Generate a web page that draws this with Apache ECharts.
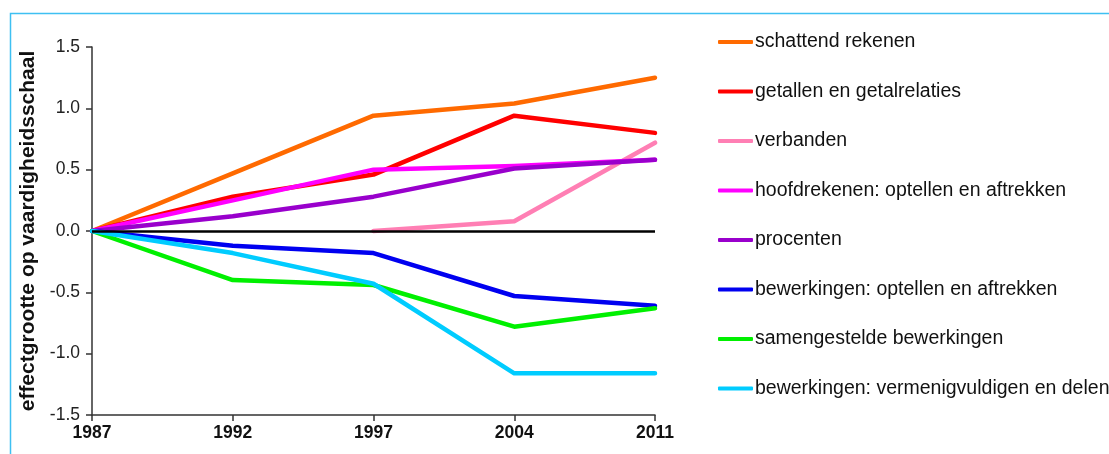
<!DOCTYPE html>
<html>
<head>
<meta charset="utf-8">
<script src="https://cdn.jsdelivr.net/npm/echarts@6/dist/echarts.min.js"></script>
<style>
html,body{margin:0;padding:0;background:#fff;}
#chart{width:1109px;height:454px;}
</style>
</head>
<body>
<div id="chart"></div>
<script>
const years = ['1987', '1992', '1997', '2004', '2011'];
const yTicks = [-1.5, -1.0, -0.5, 0.0, 0.5, 1.0, 1.5];
const yAxisTitle = 'effectgrootte op vaardigheidsschaal';

const seriesNames = [
  'schattend rekenen',
  'getallen en getalrelaties',
  'verbanden',
  'hoofdrekenen: optellen en aftrekken',
  'procenten',
  'bewerkingen: optellen en aftrekken',
  'samengestelde bewerkingen',
  'bewerkingen: vermenigvuldigen en delen'
];
const schattendRekenen = [0, 0.47, 0.94, 1.04, 1.25];
const getallen = [0, 0.28, 0.46, 0.94, 0.80];
const verbanden = [null, null, 0, 0.08, 0.72];
const hoofdrekenen = [0, 0.25, 0.50, 0.53, 0.58];
const procenten = [0, 0.12, 0.28, 0.51, 0.58];
const bewOptellen = [0, -0.12, -0.18, -0.53, -0.61];
const samengesteld = [0, -0.40, -0.44, -0.78, -0.63];
const bewVermenigvuldigen = [0, -0.18, -0.43, -1.16, -1.16];

const seriesData = [schattendRekenen, getallen, verbanden, hoofdrekenen, procenten, bewOptellen, samengesteld, bewVermenigvuldigen];
const colors = ['#FF6A00', '#FF0000', '#FF7FB4', '#FF00FF', '#9900CC', '#0000F0', '#00F000', '#00CCFF'];

const FONT = '"Liberation Sans", Arial, sans-serif';

const chart = echarts.init(document.getElementById('chart'), null, {renderer: 'canvas'});

const series = seriesData.map((d, i) => ({
  name: seriesNames[i],
  type: 'line',
  data: d,
  symbol: 'none',
  smooth: false,
  connectNulls: false,
  lineStyle: {width: 4.5, color: colors[i], cap: 'round', join: 'round'},
  itemStyle: {color: colors[i]},
  z: 2 + i
}));
series[0].markLine = {
  silent: true,
  symbol: 'none',
  label: {show: false},
  lineStyle: {color: '#000', width: 2.5, type: 'solid'},
  data: [{yAxis: 0}],
  z: 20
};

chart.setOption({
  animation: false,
  backgroundColor: '#fff',
  color: colors,
  graphic: [{
    type: 'rect',
    shape: {x: 10.5, y: 13.5, width: 1200, height: 1000},
    style: {fill: 'none', stroke: '#3EC0F2', lineWidth: 1.5},
    silent: true,
    z: 0
  }],
  grid: {left: 92, right: 454, top: 47, bottom: 39, containLabel: false},
  legend: {
    orient: 'vertical',
    left: 713,
    top: 27,
    itemWidth: 35,
    itemHeight: 4,
    itemGap: 29.5,
    icon: 'roundRect',
    data: seriesNames,
    textStyle: {fontFamily: FONT, fontSize: 19.5, color: '#111', lineHeight: 20, padding: [0, 0, 0, -3]}
  },
  xAxis: {
    type: 'category',
    data: years,
    boundaryGap: false,
    axisLine: {onZero: false, lineStyle: {color: '#333', width: 1.5}},
    axisTick: {show: true, inside: false, length: 6, alignWithLabel: true, lineStyle: {color: '#333', width: 1.5}},
    axisLabel: {fontFamily: FONT, fontSize: 17.5, fontWeight: 'bold', color: '#111', margin: 9},
    splitLine: {show: false}
  },
  yAxis: {
    type: 'value',
    min: yTicks[0],
    max: yTicks[yTicks.length - 1],
    interval: 0.5,
    name: yAxisTitle,
    nameLocation: 'middle',
    nameGap: 47,
    nameTextStyle: {fontFamily: FONT, fontSize: 21, fontWeight: 'bold', color: '#111'},
    axisLine: {show: true, lineStyle: {color: '#333', width: 1.5}},
    axisTick: {show: true, inside: false, length: 6, lineStyle: {color: '#333', width: 1.5}},
    axisLabel: {fontFamily: FONT, fontSize: 17.5, color: '#222', margin: 12, formatter: v => v.toFixed(1)},
    splitLine: {show: false}
  },
  series: series
});
</script>
</body>
</html>
